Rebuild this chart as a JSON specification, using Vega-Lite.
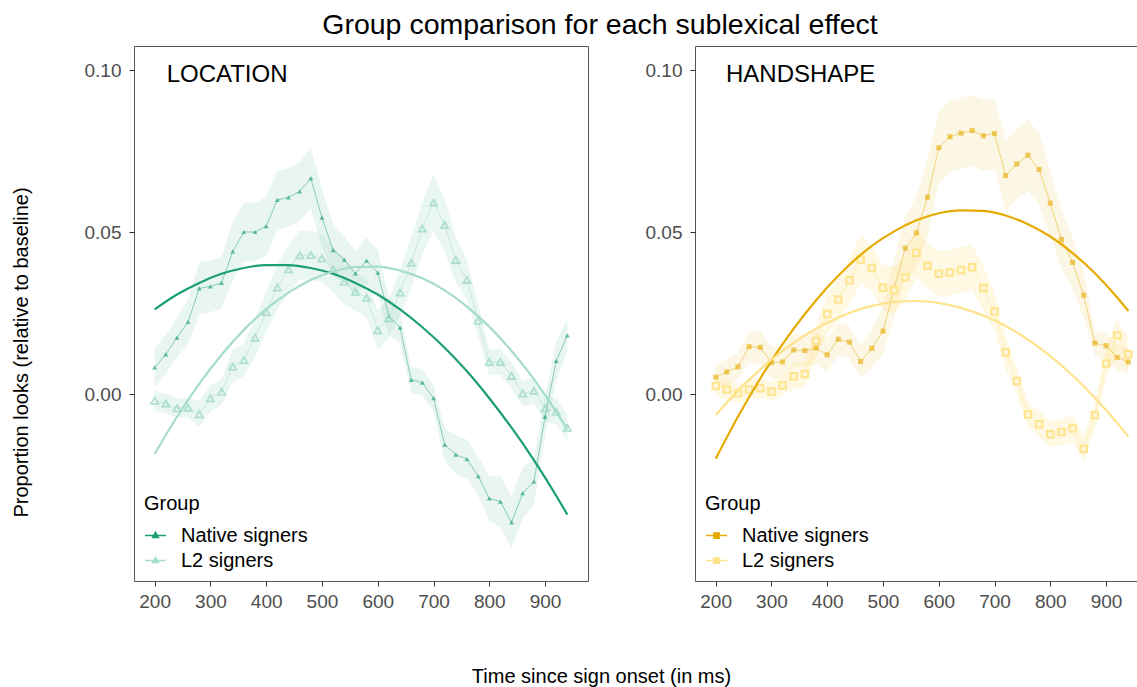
{
  "$schema": "https://vega.github.io/schema/vega-lite/v6.json",
  "padding": {"left": 10, "top": 11, "right": 0, "bottom": 0},
  "config": {
    "font": "Liberation Sans",
    "view": {"stroke": "#555555", "strokeWidth": 1},
    "axis": {"grid": false, "domain": false, "tickColor": "#333333", "tickSize": 5, "labelColor": "#4D4D4D", "labelFontSize": 19, "titleFontSize": 20, "titleFontWeight": "normal", "titleColor": "#000000"},
    "legend": {"orient": "bottom-left", "offset": 10, "padding": 0, "labelFontSize": 20, "titleFontSize": 20, "titleFontWeight": "normal", "titleColor": "#000000", "labelColor": "#000000", "rowPadding": 3, "titlePadding": 10, "labelOffset": 14, "symbolSize": 441, "symbolStrokeWidth": 1.5, "symbolOpacity": 1}
  },
  "title": {"text": "Group comparison for each sublexical effect", "fontSize": 28.5, "fontWeight": "normal", "color": "#000000", "anchor": "middle", "baseline": "alphabetic", "offset": -17, "dx": 20},
  "datasets": {
    "pts": [
      {"effect":"LOCATION","group":"Native signers","time":200,"prop":0.0083,"lo":0.0023,"hi":0.0143},
      {"effect":"LOCATION","group":"Native signers","time":220,"prop":0.0123,"lo":0.0063,"hi":0.0183},
      {"effect":"LOCATION","group":"Native signers","time":240,"prop":0.0175,"lo":0.0115,"hi":0.0235},
      {"effect":"LOCATION","group":"Native signers","time":260,"prop":0.0224,"lo":0.0154,"hi":0.0294},
      {"effect":"LOCATION","group":"Native signers","time":280,"prop":0.0327,"lo":0.0247,"hi":0.0407},
      {"effect":"LOCATION","group":"Native signers","time":300,"prop":0.0333,"lo":0.0253,"hi":0.0413},
      {"effect":"LOCATION","group":"Native signers","time":320,"prop":0.0344,"lo":0.0264,"hi":0.0424},
      {"effect":"LOCATION","group":"Native signers","time":340,"prop":0.0441,"lo":0.0351,"hi":0.0531},
      {"effect":"LOCATION","group":"Native signers","time":360,"prop":0.0501,"lo":0.0411,"hi":0.0591},
      {"effect":"LOCATION","group":"Native signers","time":380,"prop":0.0501,"lo":0.0411,"hi":0.0591},
      {"effect":"LOCATION","group":"Native signers","time":400,"prop":0.0519,"lo":0.0429,"hi":0.0609},
      {"effect":"LOCATION","group":"Native signers","time":420,"prop":0.0600,"lo":0.0510,"hi":0.0690},
      {"effect":"LOCATION","group":"Native signers","time":440,"prop":0.0608,"lo":0.0518,"hi":0.0698},
      {"effect":"LOCATION","group":"Native signers","time":460,"prop":0.0626,"lo":0.0536,"hi":0.0716},
      {"effect":"LOCATION","group":"Native signers","time":480,"prop":0.0667,"lo":0.0572,"hi":0.0762},
      {"effect":"LOCATION","group":"Native signers","time":500,"prop":0.0545,"lo":0.0455,"hi":0.0635},
      {"effect":"LOCATION","group":"Native signers","time":520,"prop":0.0445,"lo":0.0365,"hi":0.0525},
      {"effect":"LOCATION","group":"Native signers","time":540,"prop":0.0416,"lo":0.0346,"hi":0.0486},
      {"effect":"LOCATION","group":"Native signers","time":560,"prop":0.0373,"lo":0.0303,"hi":0.0443},
      {"effect":"LOCATION","group":"Native signers","time":580,"prop":0.0413,"lo":0.0343,"hi":0.0483},
      {"effect":"LOCATION","group":"Native signers","time":600,"prop":0.0376,"lo":0.0306,"hi":0.0446},
      {"effect":"LOCATION","group":"Native signers","time":620,"prop":0.0242,"lo":0.0182,"hi":0.0302},
      {"effect":"LOCATION","group":"Native signers","time":640,"prop":0.0206,"lo":0.0156,"hi":0.0256},
      {"effect":"LOCATION","group":"Native signers","time":660,"prop":0.0045,"lo":0.0005,"hi":0.0085},
      {"effect":"LOCATION","group":"Native signers","time":680,"prop":0.0036,"lo":-0.0004,"hi":0.0076},
      {"effect":"LOCATION","group":"Native signers","time":700,"prop":-0.0012,"lo":-0.0052,"hi":0.0028},
      {"effect":"LOCATION","group":"Native signers","time":720,"prop":-0.0155,"lo":-0.0205,"hi":-0.0105},
      {"effect":"LOCATION","group":"Native signers","time":740,"prop":-0.0186,"lo":-0.0246,"hi":-0.0126},
      {"effect":"LOCATION","group":"Native signers","time":760,"prop":-0.0200,"lo":-0.0260,"hi":-0.0140},
      {"effect":"LOCATION","group":"Native signers","time":780,"prop":-0.0252,"lo":-0.0312,"hi":-0.0192},
      {"effect":"LOCATION","group":"Native signers","time":800,"prop":-0.0321,"lo":-0.0391,"hi":-0.0251},
      {"effect":"LOCATION","group":"Native signers","time":820,"prop":-0.0331,"lo":-0.0411,"hi":-0.0251},
      {"effect":"LOCATION","group":"Native signers","time":840,"prop":-0.0395,"lo":-0.0475,"hi":-0.0315},
      {"effect":"LOCATION","group":"Native signers","time":860,"prop":-0.0305,"lo":-0.0385,"hi":-0.0225},
      {"effect":"LOCATION","group":"Native signers","time":880,"prop":-0.0269,"lo":-0.0339,"hi":-0.0199},
      {"effect":"LOCATION","group":"Native signers","time":900,"prop":-0.0069,"lo":-0.0129,"hi":-0.0009},
      {"effect":"LOCATION","group":"Native signers","time":920,"prop":0.0103,"lo":0.0043,"hi":0.0163},
      {"effect":"LOCATION","group":"Native signers","time":940,"prop":0.0182,"lo":0.0132,"hi":0.0232},
      {"effect":"LOCATION","group":"L2 signers","time":200,"prop":-0.0020,"lo":-0.0050,"hi":0.0010},
      {"effect":"LOCATION","group":"L2 signers","time":220,"prop":-0.0028,"lo":-0.0058,"hi":0.0002},
      {"effect":"LOCATION","group":"L2 signers","time":240,"prop":-0.0043,"lo":-0.0073,"hi":-0.0013},
      {"effect":"LOCATION","group":"L2 signers","time":260,"prop":-0.0041,"lo":-0.0071,"hi":-0.0011},
      {"effect":"LOCATION","group":"L2 signers","time":280,"prop":-0.0061,"lo":-0.0101,"hi":-0.0021},
      {"effect":"LOCATION","group":"L2 signers","time":300,"prop":-0.0012,"lo":-0.0052,"hi":0.0028},
      {"effect":"LOCATION","group":"L2 signers","time":320,"prop":0.0008,"lo":-0.0032,"hi":0.0048},
      {"effect":"LOCATION","group":"L2 signers","time":340,"prop":0.0086,"lo":0.0036,"hi":0.0136},
      {"effect":"LOCATION","group":"L2 signers","time":360,"prop":0.0106,"lo":0.0056,"hi":0.0156},
      {"effect":"LOCATION","group":"L2 signers","time":380,"prop":0.0175,"lo":0.0115,"hi":0.0235},
      {"effect":"LOCATION","group":"L2 signers","time":400,"prop":0.0254,"lo":0.0194,"hi":0.0314},
      {"effect":"LOCATION","group":"L2 signers","time":420,"prop":0.0330,"lo":0.0260,"hi":0.0400},
      {"effect":"LOCATION","group":"L2 signers","time":440,"prop":0.0386,"lo":0.0311,"hi":0.0461},
      {"effect":"LOCATION","group":"L2 signers","time":460,"prop":0.0429,"lo":0.0354,"hi":0.0504},
      {"effect":"LOCATION","group":"L2 signers","time":480,"prop":0.0430,"lo":0.0355,"hi":0.0505},
      {"effect":"LOCATION","group":"L2 signers","time":500,"prop":0.0420,"lo":0.0345,"hi":0.0495},
      {"effect":"LOCATION","group":"L2 signers","time":520,"prop":0.0386,"lo":0.0316,"hi":0.0456},
      {"effect":"LOCATION","group":"L2 signers","time":540,"prop":0.0348,"lo":0.0278,"hi":0.0418},
      {"effect":"LOCATION","group":"L2 signers","time":560,"prop":0.0317,"lo":0.0257,"hi":0.0377},
      {"effect":"LOCATION","group":"L2 signers","time":580,"prop":0.0298,"lo":0.0238,"hi":0.0358},
      {"effect":"LOCATION","group":"L2 signers","time":600,"prop":0.0198,"lo":0.0138,"hi":0.0258},
      {"effect":"LOCATION","group":"L2 signers","time":620,"prop":0.0235,"lo":0.0175,"hi":0.0295},
      {"effect":"LOCATION","group":"L2 signers","time":640,"prop":0.0314,"lo":0.0244,"hi":0.0384},
      {"effect":"LOCATION","group":"L2 signers","time":660,"prop":0.0406,"lo":0.0326,"hi":0.0486},
      {"effect":"LOCATION","group":"L2 signers","time":680,"prop":0.0512,"lo":0.0432,"hi":0.0592},
      {"effect":"LOCATION","group":"L2 signers","time":700,"prop":0.0592,"lo":0.0505,"hi":0.0679},
      {"effect":"LOCATION","group":"L2 signers","time":720,"prop":0.0523,"lo":0.0443,"hi":0.0603},
      {"effect":"LOCATION","group":"L2 signers","time":740,"prop":0.0415,"lo":0.0345,"hi":0.0485},
      {"effect":"LOCATION","group":"L2 signers","time":760,"prop":0.0353,"lo":0.0293,"hi":0.0413},
      {"effect":"LOCATION","group":"L2 signers","time":780,"prop":0.0228,"lo":0.0178,"hi":0.0278},
      {"effect":"LOCATION","group":"L2 signers","time":800,"prop":0.0100,"lo":0.0060,"hi":0.0140},
      {"effect":"LOCATION","group":"L2 signers","time":820,"prop":0.0100,"lo":0.0060,"hi":0.0140},
      {"effect":"LOCATION","group":"L2 signers","time":840,"prop":0.0057,"lo":0.0017,"hi":0.0097},
      {"effect":"LOCATION","group":"L2 signers","time":860,"prop":0.0003,"lo":-0.0037,"hi":0.0043},
      {"effect":"LOCATION","group":"L2 signers","time":880,"prop":0.0011,"lo":-0.0029,"hi":0.0051},
      {"effect":"LOCATION","group":"L2 signers","time":900,"prop":-0.0043,"lo":-0.0083,"hi":-0.0003},
      {"effect":"LOCATION","group":"L2 signers","time":920,"prop":-0.0053,"lo":-0.0093,"hi":-0.0013},
      {"effect":"LOCATION","group":"L2 signers","time":940,"prop":-0.0103,"lo":-0.0143,"hi":-0.0063},
      {"effect":"HANDSHAPE","group":"Native signers","time":200,"prop":0.0053,"lo":0.0013,"hi":0.0093},
      {"effect":"HANDSHAPE","group":"Native signers","time":220,"prop":0.0069,"lo":0.0029,"hi":0.0109},
      {"effect":"HANDSHAPE","group":"Native signers","time":240,"prop":0.0085,"lo":0.0045,"hi":0.0125},
      {"effect":"HANDSHAPE","group":"Native signers","time":260,"prop":0.0147,"lo":0.0097,"hi":0.0197},
      {"effect":"HANDSHAPE","group":"Native signers","time":280,"prop":0.0145,"lo":0.0095,"hi":0.0195},
      {"effect":"HANDSHAPE","group":"Native signers","time":300,"prop":0.0098,"lo":0.0048,"hi":0.0148},
      {"effect":"HANDSHAPE","group":"Native signers","time":320,"prop":0.0100,"lo":0.0050,"hi":0.0150},
      {"effect":"HANDSHAPE","group":"Native signers","time":340,"prop":0.0137,"lo":0.0087,"hi":0.0187},
      {"effect":"HANDSHAPE","group":"Native signers","time":360,"prop":0.0135,"lo":0.0085,"hi":0.0185},
      {"effect":"HANDSHAPE","group":"Native signers","time":380,"prop":0.0143,"lo":0.0093,"hi":0.0193},
      {"effect":"HANDSHAPE","group":"Native signers","time":400,"prop":0.0122,"lo":0.0072,"hi":0.0172},
      {"effect":"HANDSHAPE","group":"Native signers","time":420,"prop":0.0170,"lo":0.0120,"hi":0.0220},
      {"effect":"HANDSHAPE","group":"Native signers","time":440,"prop":0.0161,"lo":0.0111,"hi":0.0211},
      {"effect":"HANDSHAPE","group":"Native signers","time":460,"prop":0.0101,"lo":0.0051,"hi":0.0151},
      {"effect":"HANDSHAPE","group":"Native signers","time":480,"prop":0.0142,"lo":0.0082,"hi":0.0202},
      {"effect":"HANDSHAPE","group":"Native signers","time":500,"prop":0.0195,"lo":0.0125,"hi":0.0265},
      {"effect":"HANDSHAPE","group":"Native signers","time":520,"prop":0.0326,"lo":0.0236,"hi":0.0416},
      {"effect":"HANDSHAPE","group":"Native signers","time":540,"prop":0.0451,"lo":0.0351,"hi":0.0551},
      {"effect":"HANDSHAPE","group":"Native signers","time":560,"prop":0.0498,"lo":0.0388,"hi":0.0608},
      {"effect":"HANDSHAPE","group":"Native signers","time":580,"prop":0.0608,"lo":0.0488,"hi":0.0728},
      {"effect":"HANDSHAPE","group":"Native signers","time":600,"prop":0.0761,"lo":0.0651,"hi":0.0871},
      {"effect":"HANDSHAPE","group":"Native signers","time":620,"prop":0.0795,"lo":0.0685,"hi":0.0905},
      {"effect":"HANDSHAPE","group":"Native signers","time":640,"prop":0.0806,"lo":0.0696,"hi":0.0916},
      {"effect":"HANDSHAPE","group":"Native signers","time":660,"prop":0.0814,"lo":0.0704,"hi":0.0924},
      {"effect":"HANDSHAPE","group":"Native signers","time":680,"prop":0.0798,"lo":0.0688,"hi":0.0908},
      {"effect":"HANDSHAPE","group":"Native signers","time":700,"prop":0.0805,"lo":0.0695,"hi":0.0915},
      {"effect":"HANDSHAPE","group":"Native signers","time":720,"prop":0.0675,"lo":0.0565,"hi":0.0785},
      {"effect":"HANDSHAPE","group":"Native signers","time":740,"prop":0.0711,"lo":0.0601,"hi":0.0821},
      {"effect":"HANDSHAPE","group":"Native signers","time":760,"prop":0.0738,"lo":0.0628,"hi":0.0848},
      {"effect":"HANDSHAPE","group":"Native signers","time":780,"prop":0.0694,"lo":0.0584,"hi":0.0804},
      {"effect":"HANDSHAPE","group":"Native signers","time":800,"prop":0.0590,"lo":0.0490,"hi":0.0690},
      {"effect":"HANDSHAPE","group":"Native signers","time":820,"prop":0.0478,"lo":0.0388,"hi":0.0568},
      {"effect":"HANDSHAPE","group":"Native signers","time":840,"prop":0.0407,"lo":0.0327,"hi":0.0487},
      {"effect":"HANDSHAPE","group":"Native signers","time":860,"prop":0.0306,"lo":0.0236,"hi":0.0376},
      {"effect":"HANDSHAPE","group":"Native signers","time":880,"prop":0.0158,"lo":0.0118,"hi":0.0198},
      {"effect":"HANDSHAPE","group":"Native signers","time":900,"prop":0.0150,"lo":0.0110,"hi":0.0190},
      {"effect":"HANDSHAPE","group":"Native signers","time":920,"prop":0.0114,"lo":0.0074,"hi":0.0154},
      {"effect":"HANDSHAPE","group":"Native signers","time":940,"prop":0.0100,"lo":0.0060,"hi":0.0140},
      {"effect":"HANDSHAPE","group":"L2 signers","time":200,"prop":0.0026,"lo":-0.0004,"hi":0.0056},
      {"effect":"HANDSHAPE","group":"L2 signers","time":220,"prop":0.0015,"lo":-0.0015,"hi":0.0045},
      {"effect":"HANDSHAPE","group":"L2 signers","time":240,"prop":0.0003,"lo":-0.0027,"hi":0.0033},
      {"effect":"HANDSHAPE","group":"L2 signers","time":260,"prop":0.0015,"lo":-0.0015,"hi":0.0045},
      {"effect":"HANDSHAPE","group":"L2 signers","time":280,"prop":0.0019,"lo":-0.0011,"hi":0.0049},
      {"effect":"HANDSHAPE","group":"L2 signers","time":300,"prop":0.0009,"lo":-0.0021,"hi":0.0039},
      {"effect":"HANDSHAPE","group":"L2 signers","time":320,"prop":0.0027,"lo":-0.0003,"hi":0.0057},
      {"effect":"HANDSHAPE","group":"L2 signers","time":340,"prop":0.0056,"lo":0.0016,"hi":0.0096},
      {"effect":"HANDSHAPE","group":"L2 signers","time":360,"prop":0.0063,"lo":0.0023,"hi":0.0103},
      {"effect":"HANDSHAPE","group":"L2 signers","time":380,"prop":0.0165,"lo":0.0115,"hi":0.0215},
      {"effect":"HANDSHAPE","group":"L2 signers","time":400,"prop":0.0248,"lo":0.0188,"hi":0.0308},
      {"effect":"HANDSHAPE","group":"L2 signers","time":420,"prop":0.0293,"lo":0.0223,"hi":0.0363},
      {"effect":"HANDSHAPE","group":"L2 signers","time":440,"prop":0.0352,"lo":0.0282,"hi":0.0422},
      {"effect":"HANDSHAPE","group":"L2 signers","time":460,"prop":0.0416,"lo":0.0341,"hi":0.0491},
      {"effect":"HANDSHAPE","group":"L2 signers","time":480,"prop":0.0390,"lo":0.0320,"hi":0.0460},
      {"effect":"HANDSHAPE","group":"L2 signers","time":500,"prop":0.0329,"lo":0.0259,"hi":0.0399},
      {"effect":"HANDSHAPE","group":"L2 signers","time":520,"prop":0.0322,"lo":0.0252,"hi":0.0392},
      {"effect":"HANDSHAPE","group":"L2 signers","time":540,"prop":0.0361,"lo":0.0291,"hi":0.0431},
      {"effect":"HANDSHAPE","group":"L2 signers","time":560,"prop":0.0437,"lo":0.0362,"hi":0.0512},
      {"effect":"HANDSHAPE","group":"L2 signers","time":580,"prop":0.0397,"lo":0.0327,"hi":0.0467},
      {"effect":"HANDSHAPE","group":"L2 signers","time":600,"prop":0.0372,"lo":0.0302,"hi":0.0442},
      {"effect":"HANDSHAPE","group":"L2 signers","time":620,"prop":0.0376,"lo":0.0306,"hi":0.0446},
      {"effect":"HANDSHAPE","group":"L2 signers","time":640,"prop":0.0384,"lo":0.0314,"hi":0.0454},
      {"effect":"HANDSHAPE","group":"L2 signers","time":660,"prop":0.0392,"lo":0.0322,"hi":0.0462},
      {"effect":"HANDSHAPE","group":"L2 signers","time":680,"prop":0.0328,"lo":0.0258,"hi":0.0398},
      {"effect":"HANDSHAPE","group":"L2 signers","time":700,"prop":0.0256,"lo":0.0196,"hi":0.0316},
      {"effect":"HANDSHAPE","group":"L2 signers","time":720,"prop":0.0129,"lo":0.0079,"hi":0.0179},
      {"effect":"HANDSHAPE","group":"L2 signers","time":740,"prop":0.0041,"lo":0.0001,"hi":0.0081},
      {"effect":"HANDSHAPE","group":"L2 signers","time":760,"prop":-0.0062,"lo":-0.0102,"hi":-0.0022},
      {"effect":"HANDSHAPE","group":"L2 signers","time":780,"prop":-0.0092,"lo":-0.0132,"hi":-0.0052},
      {"effect":"HANDSHAPE","group":"L2 signers","time":800,"prop":-0.0123,"lo":-0.0163,"hi":-0.0083},
      {"effect":"HANDSHAPE","group":"L2 signers","time":820,"prop":-0.0116,"lo":-0.0156,"hi":-0.0076},
      {"effect":"HANDSHAPE","group":"L2 signers","time":840,"prop":-0.0105,"lo":-0.0145,"hi":-0.0065},
      {"effect":"HANDSHAPE","group":"L2 signers","time":860,"prop":-0.0168,"lo":-0.0208,"hi":-0.0128},
      {"effect":"HANDSHAPE","group":"L2 signers","time":880,"prop":-0.0064,"lo":-0.0104,"hi":-0.0024},
      {"effect":"HANDSHAPE","group":"L2 signers","time":900,"prop":0.0095,"lo":0.0045,"hi":0.0145},
      {"effect":"HANDSHAPE","group":"L2 signers","time":920,"prop":0.0182,"lo":0.0132,"hi":0.0232},
      {"effect":"HANDSHAPE","group":"L2 signers","time":940,"prop":0.0124,"lo":0.0074,"hi":0.0174}
    ],
    "fit": [
      {"effect":"LOCATION","group":"Native signers","time":200,"fit":0.0262},
      {"effect":"LOCATION","group":"Native signers","time":240,"fit":0.0308},
      {"effect":"LOCATION","group":"Native signers","time":280,"fit":0.0344},
      {"effect":"LOCATION","group":"Native signers","time":320,"fit":0.0372},
      {"effect":"LOCATION","group":"Native signers","time":360,"fit":0.0390},
      {"effect":"LOCATION","group":"Native signers","time":400,"fit":0.0399},
      {"effect":"LOCATION","group":"Native signers","time":440,"fit":0.0399},
      {"effect":"LOCATION","group":"Native signers","time":480,"fit":0.0390},
      {"effect":"LOCATION","group":"Native signers","time":520,"fit":0.0372},
      {"effect":"LOCATION","group":"Native signers","time":560,"fit":0.0344},
      {"effect":"LOCATION","group":"Native signers","time":600,"fit":0.0308},
      {"effect":"LOCATION","group":"Native signers","time":640,"fit":0.0262},
      {"effect":"LOCATION","group":"Native signers","time":680,"fit":0.0207},
      {"effect":"LOCATION","group":"Native signers","time":720,"fit":0.0144},
      {"effect":"LOCATION","group":"Native signers","time":760,"fit":0.0071},
      {"effect":"LOCATION","group":"Native signers","time":800,"fit":-0.0012},
      {"effect":"LOCATION","group":"Native signers","time":840,"fit":-0.0103},
      {"effect":"LOCATION","group":"Native signers","time":880,"fit":-0.0203},
      {"effect":"LOCATION","group":"Native signers","time":920,"fit":-0.0313},
      {"effect":"LOCATION","group":"Native signers","time":940,"fit":-0.0371},
      {"effect":"LOCATION","group":"L2 signers","time":200,"fit":-0.0184},
      {"effect":"LOCATION","group":"L2 signers","time":240,"fit":-0.0070},
      {"effect":"LOCATION","group":"L2 signers","time":280,"fit":0.0032},
      {"effect":"LOCATION","group":"L2 signers","time":320,"fit":0.0122},
      {"effect":"LOCATION","group":"L2 signers","time":360,"fit":0.0199},
      {"effect":"LOCATION","group":"L2 signers","time":400,"fit":0.0263},
      {"effect":"LOCATION","group":"L2 signers","time":440,"fit":0.0314},
      {"effect":"LOCATION","group":"L2 signers","time":480,"fit":0.0353},
      {"effect":"LOCATION","group":"L2 signers","time":520,"fit":0.0379},
      {"effect":"LOCATION","group":"L2 signers","time":560,"fit":0.0393},
      {"effect":"LOCATION","group":"L2 signers","time":600,"fit":0.0394},
      {"effect":"LOCATION","group":"L2 signers","time":640,"fit":0.0382},
      {"effect":"LOCATION","group":"L2 signers","time":680,"fit":0.0358},
      {"effect":"LOCATION","group":"L2 signers","time":720,"fit":0.0321},
      {"effect":"LOCATION","group":"L2 signers","time":760,"fit":0.0271},
      {"effect":"LOCATION","group":"L2 signers","time":800,"fit":0.0209},
      {"effect":"LOCATION","group":"L2 signers","time":840,"fit":0.0134},
      {"effect":"LOCATION","group":"L2 signers","time":880,"fit":0.0047},
      {"effect":"LOCATION","group":"L2 signers","time":920,"fit":-0.0054},
      {"effect":"LOCATION","group":"L2 signers","time":940,"fit":-0.0108},
      {"effect":"HANDSHAPE","group":"Native signers","time":200,"fit":-0.0199},
      {"effect":"HANDSHAPE","group":"Native signers","time":240,"fit":-0.0069},
      {"effect":"HANDSHAPE","group":"Native signers","time":280,"fit":0.0049},
      {"effect":"HANDSHAPE","group":"Native signers","time":320,"fit":0.0155},
      {"effect":"HANDSHAPE","group":"Native signers","time":360,"fit":0.0248},
      {"effect":"HANDSHAPE","group":"Native signers","time":400,"fit":0.0330},
      {"effect":"HANDSHAPE","group":"Native signers","time":440,"fit":0.0400},
      {"effect":"HANDSHAPE","group":"Native signers","time":480,"fit":0.0458},
      {"effect":"HANDSHAPE","group":"Native signers","time":520,"fit":0.0503},
      {"effect":"HANDSHAPE","group":"Native signers","time":560,"fit":0.0537},
      {"effect":"HANDSHAPE","group":"Native signers","time":600,"fit":0.0559},
      {"effect":"HANDSHAPE","group":"Native signers","time":640,"fit":0.0568},
      {"effect":"HANDSHAPE","group":"Native signers","time":680,"fit":0.0566},
      {"effect":"HANDSHAPE","group":"Native signers","time":720,"fit":0.0552},
      {"effect":"HANDSHAPE","group":"Native signers","time":760,"fit":0.0525},
      {"effect":"HANDSHAPE","group":"Native signers","time":800,"fit":0.0487},
      {"effect":"HANDSHAPE","group":"Native signers","time":840,"fit":0.0436},
      {"effect":"HANDSHAPE","group":"Native signers","time":880,"fit":0.0374},
      {"effect":"HANDSHAPE","group":"Native signers","time":920,"fit":0.0299},
      {"effect":"HANDSHAPE","group":"Native signers","time":940,"fit":0.0257},
      {"effect":"HANDSHAPE","group":"L2 signers","time":200,"fit":-0.0064},
      {"effect":"HANDSHAPE","group":"L2 signers","time":240,"fit":0.0011},
      {"effect":"HANDSHAPE","group":"L2 signers","time":280,"fit":0.0077},
      {"effect":"HANDSHAPE","group":"L2 signers","time":320,"fit":0.0134},
      {"effect":"HANDSHAPE","group":"L2 signers","time":360,"fit":0.0182},
      {"effect":"HANDSHAPE","group":"L2 signers","time":400,"fit":0.0221},
      {"effect":"HANDSHAPE","group":"L2 signers","time":440,"fit":0.0251},
      {"effect":"HANDSHAPE","group":"L2 signers","time":480,"fit":0.0273},
      {"effect":"HANDSHAPE","group":"L2 signers","time":520,"fit":0.0285},
      {"effect":"HANDSHAPE","group":"L2 signers","time":560,"fit":0.0288},
      {"effect":"HANDSHAPE","group":"L2 signers","time":600,"fit":0.0282},
      {"effect":"HANDSHAPE","group":"L2 signers","time":640,"fit":0.0267},
      {"effect":"HANDSHAPE","group":"L2 signers","time":680,"fit":0.0243},
      {"effect":"HANDSHAPE","group":"L2 signers","time":720,"fit":0.0211},
      {"effect":"HANDSHAPE","group":"L2 signers","time":760,"fit":0.0169},
      {"effect":"HANDSHAPE","group":"L2 signers","time":800,"fit":0.0118},
      {"effect":"HANDSHAPE","group":"L2 signers","time":840,"fit":0.0058},
      {"effect":"HANDSHAPE","group":"L2 signers","time":880,"fit":-0.0011},
      {"effect":"HANDSHAPE","group":"L2 signers","time":920,"fit":-0.0088},
      {"effect":"HANDSHAPE","group":"L2 signers","time":940,"fit":-0.0131}
    ]
  },
  "bounds": "flush",
  "spacing": 107,
  "resolve": {"scale": {"color": "independent"}, "legend": {"color": "independent"}},
  "hconcat": [
    {
      "width": 454,
      "height": 535,
      "layer": [
        {
          "data": {"name": "pts"},
          "transform": [{"filter": "datum.effect === 'LOCATION' && datum.group === 'Native signers'"}],
          "mark": {"type": "area", "opacity": 0.1},
          "encoding": {
            "x": {"field": "time", "type": "quantitative", "scale": {"domain": [163, 977], "nice": false, "zero": false}, "axis": {"values": [200, 300, 400, 500, 600, 700, 800, 900], "labelPadding": 6, "title": "Time since sign onset (in ms)", "titleX": 467, "titleY": 95, "titleAlign": "center", "titleBaseline": "middle"}},
            "y": {"field": "lo", "type": "quantitative", "scale": {"domain": [-0.0576, 0.1075], "nice": false, "zero": false}, "axis": {"values": [0, 0.05, 0.1], "format": ".2f", "labelPadding": 8, "title": "Proportion looks (relative to baseline)", "titleX": -113, "titleY": 306, "titleAngle": 270, "titleAlign": "center", "titleBaseline": "middle"}},
            "y2": {"field": "hi"},
            "color": {"field": "group", "type": "nominal", "scale": {"domain": ["Native signers", "L2 signers"], "range": ["#1B9E77", "#A6DCCB"]}}
          }
        },
        {
          "data": {"name": "pts"},
          "transform": [{"filter": "datum.effect === 'LOCATION' && datum.group === 'L2 signers'"}],
          "mark": {"type": "area", "opacity": 0.25},
          "encoding": {
            "x": {"field": "time", "type": "quantitative"},
            "y": {"field": "lo", "type": "quantitative"},
            "y2": {"field": "hi"},
            "color": {"field": "group", "type": "nominal"}
          }
        },
        {
          "data": {"name": "pts"},
          "transform": [{"filter": "datum.effect === 'LOCATION'"}],
          "mark": {"type": "line", "strokeWidth": 0.8, "opacity": 0.6},
          "encoding": {
            "x": {"field": "time", "type": "quantitative"},
            "y": {"field": "prop", "type": "quantitative"},
            "color": {"field": "group", "type": "nominal"}
          }
        },
        {
          "data": {"name": "pts"},
          "transform": [{"filter": "datum.effect === 'LOCATION' && datum.group === 'Native signers'"}],
          "mark": {"type": "point", "shape": "triangle-up", "filled": true, "size": 24, "opacity": 0.65},
          "encoding": {
            "x": {"field": "time", "type": "quantitative"},
            "y": {"field": "prop", "type": "quantitative"},
            "color": {"field": "group", "type": "nominal"}
          }
        },
        {
          "data": {"name": "pts"},
          "transform": [{"filter": "datum.effect === 'LOCATION' && datum.group === 'L2 signers'"}],
          "mark": {"type": "point", "shape": "triangle-up", "filled": false, "size": 55, "strokeWidth": 1.6, "opacity": 0.9},
          "encoding": {
            "x": {"field": "time", "type": "quantitative"},
            "y": {"field": "prop", "type": "quantitative"},
            "color": {"field": "group", "type": "nominal"}
          }
        },
        {
          "data": {"name": "fit"},
          "transform": [{"filter": "datum.effect === 'LOCATION'"}],
          "mark": {"type": "line", "strokeWidth": 2.2, "interpolate": "monotone"},
          "encoding": {
            "x": {"field": "time", "type": "quantitative"},
            "y": {"field": "fit", "type": "quantitative"},
            "color": {"field": "group", "type": "nominal", "legend": {"title": "Group", "symbolType": "M-1,0H1M0,-0.3L0.28,0.2H-0.28Z"}}
          }
        },
        {
          "data": {"values": [{"label": "LOCATION"}]},
          "mark": {"type": "text", "fontSize": 24, "align": "left", "baseline": "alphabetic", "color": "#000000"},
          "encoding": {
            "text": {"field": "label", "type": "nominal"},
            "x": {"datum": 221.5, "type": "quantitative"},
            "y": {"datum": 0.0963, "type": "quantitative"}
          }
        }
      ]
    },
    {
      "width": 454,
      "height": 535,
      "layer": [
        {
          "data": {"name": "pts"},
          "transform": [{"filter": "datum.effect === 'HANDSHAPE' && datum.group === 'Native signers'"}],
          "mark": {"type": "area", "opacity": 0.1},
          "encoding": {
            "x": {"field": "time", "type": "quantitative", "scale": {"domain": [163, 977], "nice": false, "zero": false}, "axis": {"values": [200, 300, 400, 500, 600, 700, 800, 900], "labelPadding": 6, "title": null}},
            "y": {"field": "lo", "type": "quantitative", "scale": {"domain": [-0.0576, 0.1075], "nice": false, "zero": false}, "axis": {"values": [0, 0.05, 0.1], "format": ".2f", "labelPadding": 8, "title": null}},
            "y2": {"field": "hi"},
            "color": {"field": "group", "type": "nominal", "scale": {"domain": ["Native signers", "L2 signers"], "range": ["#E6AB02", "#FFE38A"]}}
          }
        },
        {
          "data": {"name": "pts"},
          "transform": [{"filter": "datum.effect === 'HANDSHAPE' && datum.group === 'L2 signers'"}],
          "mark": {"type": "area", "opacity": 0.25},
          "encoding": {
            "x": {"field": "time", "type": "quantitative"},
            "y": {"field": "lo", "type": "quantitative"},
            "y2": {"field": "hi"},
            "color": {"field": "group", "type": "nominal"}
          }
        },
        {
          "data": {"name": "pts"},
          "transform": [{"filter": "datum.effect === 'HANDSHAPE'"}],
          "mark": {"type": "line", "strokeWidth": 0.8, "opacity": 0.6},
          "encoding": {
            "x": {"field": "time", "type": "quantitative"},
            "y": {"field": "prop", "type": "quantitative"},
            "color": {"field": "group", "type": "nominal"}
          }
        },
        {
          "data": {"name": "pts"},
          "transform": [{"filter": "datum.effect === 'HANDSHAPE' && datum.group === 'Native signers'"}],
          "mark": {"type": "point", "shape": "square", "filled": true, "size": 26, "opacity": 0.6},
          "encoding": {
            "x": {"field": "time", "type": "quantitative"},
            "y": {"field": "prop", "type": "quantitative"},
            "color": {"field": "group", "type": "nominal"}
          }
        },
        {
          "data": {"name": "pts"},
          "transform": [{"filter": "datum.effect === 'HANDSHAPE' && datum.group === 'L2 signers'"}],
          "mark": {"type": "point", "shape": "square", "filled": false, "fill": "#FFF6D6", "fillOpacity": 1, "size": 42, "strokeWidth": 2, "opacity": 0.95},
          "encoding": {
            "x": {"field": "time", "type": "quantitative"},
            "y": {"field": "prop", "type": "quantitative"},
            "color": {"field": "group", "type": "nominal"}
          }
        },
        {
          "data": {"name": "fit"},
          "transform": [{"filter": "datum.effect === 'HANDSHAPE'"}],
          "mark": {"type": "line", "strokeWidth": 2.2, "interpolate": "monotone"},
          "encoding": {
            "x": {"field": "time", "type": "quantitative"},
            "y": {"field": "fit", "type": "quantitative"},
            "color": {"field": "group", "type": "nominal", "legend": {"title": "Group", "symbolType": "M-1,0H1M-0.25,-0.25H0.25V0.25H-0.25Z"}}
          }
        },
        {
          "data": {"values": [{"label": "HANDSHAPE"}]},
          "mark": {"type": "text", "fontSize": 24, "align": "left", "baseline": "alphabetic", "color": "#000000"},
          "encoding": {
            "text": {"field": "label", "type": "nominal"},
            "x": {"datum": 218.6, "type": "quantitative"},
            "y": {"datum": 0.0963, "type": "quantitative"}
          }
        }
      ]
    }
  ]
}
